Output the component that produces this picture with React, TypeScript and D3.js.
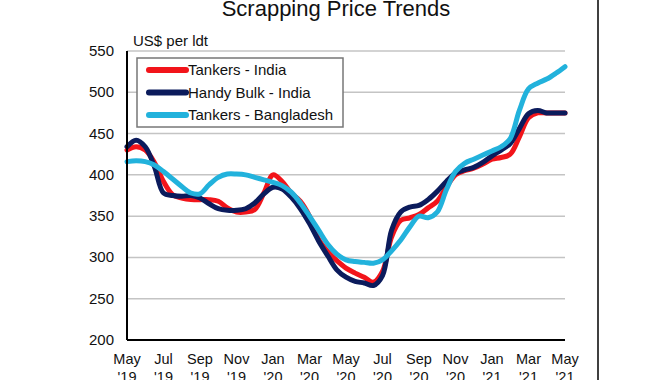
import React from "react";
import * as d3 from "d3";

// Semi-monthly points, May 2019 (index 0) to May 2021 (index 48)
const tankersIndia = [
  430, 434, 430, 415, 392, 376, 372, 370, 370, 370, 368, 360, 355, 355, 358, 378,
  400, 392, 378, 368, 350, 322, 307, 296, 287, 281, 276, 270, 283, 325, 345, 348,
  352, 360, 368, 385, 400, 405, 408, 413, 419, 421, 425, 446, 469, 475, 475, 475, 475,
];
const handyBulkIndia = [
  434, 442, 434, 410, 378, 375, 374, 375, 372, 365, 359, 357, 357, 359, 366, 377,
  385, 383, 373, 359, 341, 320, 302, 285, 276, 271, 269, 266, 278, 333, 355, 361,
  363, 370, 380, 392, 402, 406, 409, 415, 423, 430, 438, 456, 474, 478, 475, 475, 475,
];
const tankersBangladesh = [
  416, 417, 416, 412, 404, 395, 386, 378, 377, 388, 397, 401, 401, 400, 397, 394,
  391, 387, 379, 366, 350, 333, 316, 304, 297, 295, 294, 293, 297, 308, 321, 337,
  350, 348, 355, 382, 404, 414, 419, 424, 429, 434, 444, 478, 504, 511, 516, 523, 531,
];

const seriesNames = ["Tankers - India", "Handy Bulk - India", "Tankers - Bangladesh"];
const seriesColors = ["#f2141a", "#0b1b5c", "#22b2dc"];

const tickMonths = ["May", "Jul", "Sep", "Nov", "Jan", "Mar", "May", "Jul", "Sep", "Nov", "Jan", "Mar", "May"];
const tickYears = ["'19", "'19", "'19", "'19", "'20", "'20", "'20", "'20", "'20", "'20", "'21", "'21", "'21"];
const yTicks = [200, 250, 300, 350, 400, 450, 500, 550];

const FONT = "'Liberation Sans', Arial, sans-serif";

export default function App() {
  const W = 670;
  const H = 380;
  const x = d3.scaleLinear().domain([0, 48]).range([127, 565]);
  const y = d3.scaleLinear().domain([200, 550]).range([340, 51]);
  const line = d3
    .line<number>()
    .x((_, i) => x(i))
    .y((d) => y(d))
    .curve(d3.curveCatmullRom.alpha(0.5));

  const series = [tankersIndia, handyBulkIndia, tankersBangladesh];

  return (
    <svg
      width={W}
      height={H}
      style={{ position: "absolute", left: 0, top: 0, background: "#fff" }}
      fontFamily={FONT}
    >
      <rect x={0} y={0} width={W} height={H} fill="#fff" />
      <text x={336} y={16} textAnchor="middle" fontSize={22} fill="#111">
        Scrapping Price Trends
      </text>
      <text x={133} y={46} fontSize={15} fill="#111">
        US$ per ldt
      </text>
      {yTicks.slice(1).map((t) => (
        <line key={t} x1={x(0)} x2={x(48)} y1={y(t)} y2={y(t)} stroke="#c4c4c4" strokeWidth={1.5} />
      ))}
      {yTicks.map((t) => (
        <text key={t} x={114} y={y(t) + 5} textAnchor="end" fontSize={15} fill="#111">
          {t}
        </text>
      ))}
      {tickMonths.map((m, i) => (
        <g key={i}>
          <text x={x(i * 4)} y={364} textAnchor="middle" fontSize={14.5} fill="#111">
            {m}
          </text>
          <text x={x(i * 4)} y={381.5} textAnchor="middle" fontSize={14.5} fill="#111">
            {tickYears[i]}
          </text>
        </g>
      ))}
      {series.map((s, i) => (
        <path
          key={i}
          d={line(s) || ""}
          fill="none"
          stroke={seriesColors[i]}
          strokeWidth={5}
          strokeLinejoin="round"
          strokeLinecap="round"
        />
      ))}
      <line x1={x(0)} x2={x(0)} y1={y(550)} y2={y(200)} stroke="#000" strokeWidth={2} />
      <line x1={x(0)} x2={x(48)} y1={y(200)} y2={y(200)} stroke="#000" strokeWidth={2} />
      <rect x={137} y={58} width={206} height={69} fill="#fff" stroke="#777" strokeWidth={1.5} />
      {seriesNames.map((n, i) => (
        <g key={n}>
          <line
            x1={149}
            x2={186}
            y1={70 + i * 22.5}
            y2={70 + i * 22.5}
            stroke={seriesColors[i]}
            strokeWidth={6}
            strokeLinecap="round"
          />
          <text x={188} y={70 + i * 22.5 + 5} fontSize={15} fill="#111">
            {n}
          </text>
        </g>
      ))}
      <line x1={598} x2={598} y1={0} y2={H} stroke="#000" strokeWidth={1.5} />
    </svg>
  );
}
